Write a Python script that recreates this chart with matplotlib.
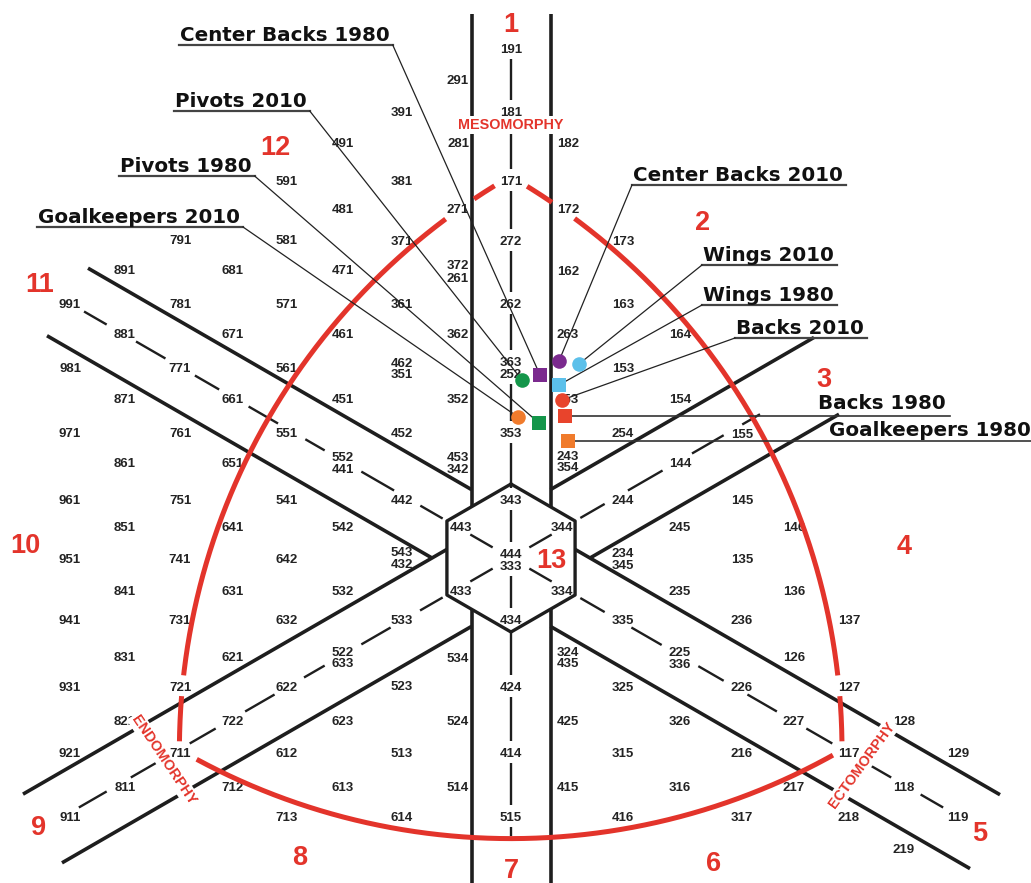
import numpy as np
import matplotlib
matplotlib.use("Agg")
import matplotlib.pyplot as plt

# Somatotype codes of the chart, column by column (chart units = pixels, y downwards)
col_x = [70, 125, 180, 233, 287, 343, 402, 458, 511, 568, 623, 680, 742, 794, 849, 904, 958]
col_codes = [
    ["991", "981", "971", "961", "951", "941", "931", "921", "911"],
    ["891", "881", "871", "861", "851", "841", "831", "821", "811"],
    ["791", "781", "771", "761", "751", "741", "731", "721", "711"],
    ["681", "671", "661", "651", "641", "631", "621", "722", "712"],
    ["591", "581", "571", "561", "551", "541", "642", "632", "622", "612", "713"],
    ["491", "481", "471", "461", "451", "552", "441", "542", "532", "522", "633", "623", "613"],
    ["391", "381", "371", "361", "462", "351", "452", "442", "543", "432", "533", "523", "513", "614"],
    ["291", "281", "271", "372", "261", "362", "352", "453", "342", "443", "433", "534", "524", "514"],
    ["191", "181", "171", "272", "262", "363", "252", "353", "343", "444", "333", "434", "424", "414", "515"],
    ["182", "172", "162", "263", "253", "243", "354", "344", "334", "324", "435", "425", "415"],
    ["173", "163", "153", "254", "244", "234", "345", "335", "325", "315", "416"],
    ["164", "154", "144", "245", "235", "225", "336", "326", "316"],
    ["155", "145", "135", "236", "226", "216", "317"],
    ["146", "136", "126", "227", "217"],
    ["137", "127", "117", "218"],
    ["128", "118", "219"],
    ["129", "119"],
]
col_y = [
    [303, 367, 432, 499, 558, 619, 686, 752, 816],
    [269, 333, 398, 462, 526, 590, 656, 720, 786],
    [239, 303, 367, 432, 499, 558, 619, 686, 752],
    [269, 333, 398, 462, 526, 590, 656, 720, 786],
    [180, 239, 303, 367, 432, 499, 558, 619, 686, 752, 816],
    [142, 208, 269, 333, 398, 456, 468, 526, 590, 651, 662, 720, 786],
    [111, 180, 240, 303, 362, 373, 432, 499, 551, 563, 619, 685, 752, 816],
    [79, 142, 208, 264, 277, 333, 398, 456, 468, 526, 590, 657, 720, 786],
    [48, 111, 180, 240, 303, 361, 373, 432, 499, 553, 565, 619, 686, 752, 816],
    [142, 208, 270, 333, 398, 455, 466, 526, 590, 651, 662, 720, 786],
    [240, 303, 367, 432, 499, 552, 564, 619, 686, 752, 816],
    [333, 398, 462, 526, 590, 651, 663, 720, 786],
    [433, 499, 558, 619, 686, 752, 816],
    [526, 590, 656, 720, 786],
    [619, 686, 752, 816],
    [720, 786, 848],
    [752, 816],
]
x_nudge = {"443": 3, "433": 3, "344": -6, "334": -6}

# codes the red outline is interrupted by
outline_breaks = ["171", "271", "172", "721", "711", "117", "127"]

# the 13 category areas
region_names = [str(i) for i in range(1, 14)]
region_x = [511, 703, 824, 904, 980, 714, 511, 300, 39, 25, 40, 275, 551]
region_y = [22, 220, 377, 544, 831, 861, 868, 855, 825, 543, 282, 145, 558]

# team positions: mean somatotypes
groups = ["Center Backs", "Pivots", "Goalkeepers", "Wings", "Backs"]
group_colors = ["#7b2a8e", "#14964a", "#f07b2c", "#5cc0ea", "#e8442c"]
x_1980 = [540, 539, 568, 559, 565]
y_1980 = [375, 423, 441, 385, 416]
x_2010 = [559, 522, 518, 579, 562]
y_2010 = [361, 380, 417, 364, 400]

callout_text = ["Center Backs 1980", "Pivots 2010", "Pivots 1980", "Goalkeepers 2010",
                "Center Backs 2010", "Wings 2010", "Wings 1980", "Backs 2010",
                "Backs 1980", "Goalkeepers 1980"]
callout_x = [180, 175, 120, 38, 633, 703, 703, 736, 818, 829]
callout_base = [41, 107, 172, 223, 181, 261, 301, 334, 409, 436]
callout_side = ["left", "left", "left", "left", "right", "right", "right", "right", "flat", "flat"]
callout_target = [("Center Backs", 1980), ("Pivots", 2010), ("Pivots", 1980), ("Goalkeepers", 2010),
                  ("Center Backs", 2010), ("Wings", 2010), ("Wings", 1980), ("Backs", 2010),
                  ("Backs", 1980), ("Goalkeepers", 1980)]

INK = "#1e1e1e"
RED = "#e3342b"
NUM_FONT = dict(family="Liberation Sans", weight="bold", size=9.5, color="#232323")

fig = plt.figure(figsize=(10.31, 8.83), dpi=100)
ax = fig.add_axes([0, 0, 1, 1])
ax.set_xlim(0, 1031)
ax.set_ylim(883, 0)
ax.axis("off")

labels = []
for cx_, codes, ys in zip(col_x, col_codes, col_y):
    for c, y in zip(codes, ys):
        labels.append((c, cx_ + x_nudge.get(c, 0), y))

# geometry of the frame
cx, cy = 511, 558
k = np.tan(np.radians(30))
half = 39.5
off = half / np.cos(np.radians(30))
hex_r = 74
hex_w = hex_r * np.cos(np.radians(30))

# hexagon
ang = np.radians(90 + 60 * np.arange(7))
ax.plot(cx + hex_r * np.cos(ang), cy - hex_r * np.sin(ang), color=INK, lw=2.4, zorder=3)

# vertical band
for xv in (cx - half, cx + half):
    y_edge = hex_r - half * k
    ax.plot([xv, xv], [14, cy - y_edge], color=INK, lw=2.6, solid_capstyle="butt", zorder=3)
    ax.plot([xv, xv], [cy + y_edge, 883], color=INK, lw=2.6, solid_capstyle="butt", zorder=3)

# oblique bands: (slope sign, offset, x start, x end)
bands = [(1, -off, 88, cx - half), (1, off, 47, cx - off / k),
         (-1, -off, 23, cx - hex_w), (-1, off, 62, cx - half),
         (-1, -off, cx + half, 814), (-1, off, cx + off / k, 839),
         (1, -off, cx + hex_w, 1000), (1, off, cx + half, 970)]
for s, sh, x0, x1 in bands:
    xs = np.array([x0, x1])
    ax.plot(xs, cy + s * k * (xs - cx) + sh, color=INK, lw=2.6, solid_capstyle="butt", zorder=3)


def free_spans(d, t0, t1, hw=14, hh=6, pad=5):
    p0 = np.array([cx, cy], float)
    blocked = []
    for c, x, y in labels:
        rel = np.array([x, y]) - p0
        if abs(rel[0] * d[1] - rel[1] * d[0]) > 9:
            continue
        lo, hi = -np.inf, np.inf
        for i, h in ((0, hw), (1, hh)):
            if abs(d[i]) < 1e-9:
                continue
            a, b = (rel[i] - h) / d[i], (rel[i] + h) / d[i]
            lo, hi = max(lo, min(a, b)), min(hi, max(a, b))
        blocked.append((lo - pad, hi + pad))
    blocked.sort()
    spans, cur = [], t0
    for lo, hi in blocked:
        if lo > cur:
            spans.append((cur, min(lo, t1)))
        cur = max(cur, hi)
    if cur < t1:
        spans.append((cur, t1))
    return [sp for sp in spans if sp[1] - sp[0] > 2]


c30, s30 = np.cos(np.radians(30)), 0.5
axes_dirs = [((0.0, 1.0), 48 - cy, 836 - cy),
             ((c30, s30), (70 - cx) / c30, (958 - cx) / c30),
             ((c30, -s30), (70 - cx) / c30, (760 - cx) / c30)]
for d, t0, t1 in axes_dirs:
    for a, b in free_spans(d, t0, t1):
        ax.plot([cx + a * d[0], cx + b * d[0]], [cy + a * d[1], cy + b * d[1]],
                color=INK, lw=1.7, solid_capstyle="butt", zorder=3)

# red outline (arcs centred on the opposite corner)
T = np.array([511, 176.0])
L = np.array([180, 750.0])
R = np.array([842, 750.0])


def arc(center, a, b, n=400):
    a0 = np.arctan2(a[1] - center[1], a[0] - center[0])
    a1 = np.arctan2(b[1] - center[1], b[0] - center[0])
    dd = (a1 - a0 + np.pi) % (2 * np.pi) - np.pi
    t = np.linspace(a0, a0 + dd, n)
    r = np.hypot(*(a - center))
    return center[0] + r * np.cos(t), center[1] + r * np.sin(t)


for center, a, b in ((R, T, L), (T, L, R), (L, R, T)):
    xs, ys = arc(center, a, b)
    for c, x, y in labels:
        if c in outline_breaks:
            inside = (np.abs(xs - x) < 16) & (np.abs(ys - y) < 10)
            ys = np.where(inside, np.nan, ys)
    ax.plot(xs, ys, color=RED, lw=3.6, solid_capstyle="butt", zorder=4)

# somatotype codes
for c, x, y in labels:
    ax.text(x, y + 4.7, c, ha="center", va="baseline", zorder=2, **NUM_FONT)

# area numbers
for name, x, y in zip(region_names, region_x, region_y):
    ax.text(x, y + 9.9, name, ha="center", va="baseline", color=RED,
            family="Liberation Sans", weight="bold", size=19.5, zorder=6)

# component names
box = dict(boxstyle="square,pad=0.12", fc="white", ec="none")
ax.text(511, 125, "MESOMORPHY", ha="center", va="center", color=RED, family="Liberation Sans",
        weight="bold", size=10.4, bbox=box, zorder=6)
ax.text(164, 760, "ENDOMORPHY", ha="center", va="center", color=RED, family="Liberation Sans",
        weight="bold", size=10.4, rotation=-56, rotation_mode="anchor", bbox=box, zorder=6)
ax.text(862, 765, "ECTOMORPHY", ha="center", va="center", color=RED, family="Liberation Sans",
        weight="bold", size=10.4, rotation=54, rotation_mode="anchor", bbox=box, zorder=6)

# group means
for i, g in enumerate(groups):
    ax.plot(x_1980[i], y_1980[i], marker="s", ms=10, color=group_colors[i], mew=0, zorder=7)
    ax.plot(x_2010[i], y_2010[i], marker="o", ms=10.5, color=group_colors[i], mew=0, zorder=7)

# callouts
texts = []
for txt, x, yb in zip(callout_text, callout_x, callout_base):
    texts.append(ax.text(x, yb, txt, ha="left", va="baseline", color="#111111",
                         family="DejaVu Sans", weight="bold", size=14.3, zorder=8))

fig.canvas.draw()
inv = ax.transData.inverted()
renderer = fig.canvas.get_renderer()
for t, side, yb, (g, yr) in zip(texts, callout_side, callout_base, callout_target):
    bb = t.get_window_extent(renderer)
    (x0, _), (x1, _) = inv.transform([[bb.x0, bb.y0], [bb.x1, bb.y1]])
    gi = groups.index(g)
    mx, my = (x_1980[gi], y_1980[gi]) if yr == 1980 else (x_2010[gi], y_2010[gi])
    if side == "flat":
        ax.plot([mx, x1 + 4], [my, my], color="#333333", lw=1.2, zorder=5)
        continue
    uy = yb + 4
    ax.plot([x0 - 1, x1 + 3], [uy, uy], color="#444444", lw=1.6, zorder=5)
    sx = x1 + 3 if side == "left" else x0 - 1
    ax.plot([sx, mx], [uy, my], color="#222222", lw=0.9, zorder=5)

fig.savefig("out.png", dpi=100)
